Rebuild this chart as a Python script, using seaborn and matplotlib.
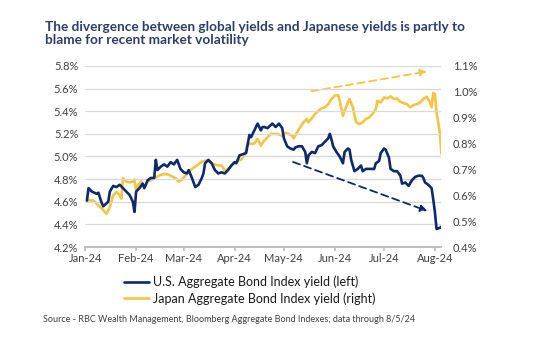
import pandas as pd
import numpy as np
import matplotlib.pyplot as plt
import matplotlib.dates as mdates
from matplotlib.ticker import FuncFormatter, MultipleLocator
import seaborn as sns

# U.S. Aggregate Bond Index yield (left axis, %)
us_dates = ["2024-01-02", "2024-01-03", "2024-01-05", "2024-01-08", "2024-01-09", "2024-01-11",
            "2024-01-12", "2024-01-15", "2024-01-16", "2024-01-18", "2024-01-20", "2024-01-22",
            "2024-01-24", "2024-01-26", "2024-01-28", "2024-01-30", "2024-01-31", "2024-02-01",
            "2024-02-03", "2024-02-05", "2024-02-06", "2024-02-08", "2024-02-10", "2024-02-12",
            "2024-02-13", "2024-02-14", "2024-02-16", "2024-02-18", "2024-02-20", "2024-02-22",
            "2024-02-24", "2024-02-26", "2024-02-28", "2024-03-01", "2024-03-03", "2024-03-04",
            "2024-03-06", "2024-03-08", "2024-03-10", "2024-03-12", "2024-03-13", "2024-03-14",
            "2024-03-16", "2024-03-18", "2024-03-20", "2024-03-22", "2024-03-24", "2024-03-26",
            "2024-03-28", "2024-03-30", "2024-04-01", "2024-04-02", "2024-04-04", "2024-04-06",
            "2024-04-08", "2024-04-10", "2024-04-11", "2024-04-13", "2024-04-15", "2024-04-17",
            "2024-04-18", "2024-04-19", "2024-04-21", "2024-04-24", "2024-04-26", "2024-04-28",
            "2024-04-30", "2024-05-01", "2024-05-03", "2024-05-05", "2024-05-07", "2024-05-08",
            "2024-05-10", "2024-05-12", "2024-05-14", "2024-05-15", "2024-05-16", "2024-05-18",
            "2024-05-20", "2024-05-22", "2024-05-24", "2024-05-26", "2024-05-28", "2024-05-29",
            "2024-05-30", "2024-05-31", "2024-06-02", "2024-06-04", "2024-06-06", "2024-06-07",
            "2024-06-09", "2024-06-10", "2024-06-11", "2024-06-13", "2024-06-15", "2024-06-17",
            "2024-06-18", "2024-06-20", "2024-06-23", "2024-06-25", "2024-06-26", "2024-06-28",
            "2024-06-29", "2024-07-01", "2024-07-02", "2024-07-04", "2024-07-05", "2024-07-07",
            "2024-07-09", "2024-07-11", "2024-07-12", "2024-07-14", "2024-07-16", "2024-07-18",
            "2024-07-20", "2024-07-22", "2024-07-24", "2024-07-25", "2024-07-26", "2024-07-28",
            "2024-07-30", "2024-07-31", "2024-08-01", "2024-08-02", "2024-08-04", "2024-08-05"]
us_yield = [4.61, 4.72, 4.69, 4.67, 4.68, 4.59, 4.56, 4.60, 4.69, 4.74, 4.73, 4.75,
            4.72, 4.69, 4.66, 4.60, 4.51, 4.69, 4.72, 4.76, 4.72, 4.79, 4.81, 4.81,
            4.97, 4.88, 4.91, 4.93, 4.91, 4.95, 4.93, 4.97, 4.89, 4.86, 4.85, 4.88,
            4.81, 4.73, 4.75, 4.81, 4.85, 4.94, 4.97, 4.94, 4.88, 4.85, 4.86, 4.85,
            4.88, 4.92, 4.95, 4.94, 5.01, 5.02, 5.03, 5.19, 5.17, 5.23, 5.29, 5.23,
            5.26, 5.26, 5.25, 5.29, 5.26, 5.29, 5.25, 5.16, 5.09, 5.07, 5.06, 5.08,
            5.09, 5.09, 5.04, 4.94, 5.01, 5.04, 5.03, 5.09, 5.10, 5.13, 5.16, 5.20,
            5.15, 5.09, 5.04, 5.00, 4.94, 5.04, 5.07, 5.06, 4.97, 4.87, 4.89, 4.92,
            4.87, 4.89, 4.89, 4.89, 4.94, 4.96, 5.03, 5.07, 5.06, 4.99, 4.89, 4.87,
            4.87, 4.83, 4.76, 4.77, 4.74, 4.79, 4.82, 4.83, 4.83, 4.81, 4.77, 4.75,
            4.72, 4.62, 4.51, 4.36, 4.37, 4.38]

# Japan Aggregate Bond Index yield (right axis, %)
jp_dates = ["2024-01-02", "2024-01-03", "2024-01-06", "2024-01-08", "2024-01-11", "2024-01-13",
            "2024-01-14", "2024-01-16", "2024-01-18", "2024-01-20", "2024-01-22", "2024-01-23",
            "2024-01-24", "2024-01-26", "2024-01-28", "2024-01-30", "2024-01-31", "2024-02-01",
            "2024-02-02", "2024-02-04", "2024-02-06", "2024-02-08", "2024-02-11", "2024-02-13",
            "2024-02-16", "2024-02-19", "2024-02-22", "2024-02-25", "2024-02-27", "2024-02-29",
            "2024-03-03", "2024-03-06", "2024-03-09", "2024-03-12", "2024-03-15", "2024-03-17",
            "2024-03-19", "2024-03-22", "2024-03-24", "2024-03-26", "2024-03-28", "2024-03-31",
            "2024-04-02", "2024-04-05", "2024-04-07", "2024-04-09", "2024-04-11", "2024-04-13",
            "2024-04-15", "2024-04-17", "2024-04-19", "2024-04-21", "2024-04-23", "2024-04-27",
            "2024-04-30", "2024-05-02", "2024-05-04", "2024-05-06", "2024-05-07", "2024-05-09",
            "2024-05-11", "2024-05-13", "2024-05-15", "2024-05-16", "2024-05-18", "2024-05-20",
            "2024-05-22", "2024-05-24", "2024-05-26", "2024-05-28", "2024-05-30", "2024-06-01",
            "2024-06-03", "2024-06-04", "2024-06-06", "2024-06-07", "2024-06-09", "2024-06-10",
            "2024-06-12", "2024-06-14", "2024-06-16", "2024-06-18", "2024-06-20", "2024-06-22",
            "2024-06-24", "2024-06-26", "2024-06-27", "2024-06-29", "2024-07-01", "2024-07-03",
            "2024-07-05", "2024-07-07", "2024-07-09", "2024-07-11", "2024-07-13", "2024-07-15",
            "2024-07-17", "2024-07-19", "2024-07-21", "2024-07-23", "2024-07-25", "2024-07-27",
            "2024-07-29", "2024-07-30", "2024-07-31", "2024-08-01", "2024-08-02", "2024-08-04",
            "2024-08-05"]
jp_yield = [0.590, 0.580, 0.580, 0.567, 0.550, 0.535, 0.529, 0.555, 0.600, 0.612, 0.600, 0.587,
            0.666, 0.653, 0.650, 0.653, 0.661, 0.619, 0.638, 0.653, 0.631, 0.653, 0.661, 0.670,
            0.679, 0.683, 0.676, 0.666, 0.653, 0.661, 0.683, 0.702, 0.715, 0.730, 0.734, 0.728,
            0.721, 0.715, 0.715, 0.696, 0.702, 0.721, 0.728, 0.738, 0.753, 0.800, 0.798, 0.800,
            0.818, 0.792, 0.811, 0.824, 0.837, 0.837, 0.830, 0.841, 0.837, 0.830, 0.820, 0.843,
            0.863, 0.882, 0.895, 0.882, 0.898, 0.914, 0.927, 0.936, 0.940, 0.952, 0.972, 0.985,
            0.987, 0.965, 0.907, 0.927, 0.959, 0.972, 0.940, 0.882, 0.875, 0.882, 0.895, 0.901,
            0.914, 0.933, 0.965, 0.959, 0.978, 0.974, 0.982, 0.972, 0.974, 0.961, 0.956, 0.952,
            0.940, 0.949, 0.952, 0.959, 0.972, 0.981, 0.959, 0.940, 0.995, 0.991, 0.920, 0.843,
            0.760]

# trend arrows: (start date, start value, end date, end value)
jp_arrow = ["2024-05-16", 1.00, "2024-07-29", 1.08]
us_arrow = ["2024-05-05", 4.96, "2024-07-29", 4.51]

title = ("The divergence between global yields and Japanese yields is partly to\n"
         "blame for recent market volatility")
source = "Source - RBC Wealth Management, Bloomberg Aggregate Bond Indexes; data through 8/5/24"
us_label = "U.S. Aggregate Bond Index yield (left)"
jp_label = "Japan Aggregate Bond Index yield (right)"

navy = "#0c2a6c"
gold = "#f4c443"
txt = "#404040"

sns.set_theme(style="white")
plt.rcParams["font.family"] = ["Lato", "DejaVu Sans"]

us = pd.DataFrame({"date": pd.to_datetime(us_dates), "yield": us_yield})
jp = pd.DataFrame({"date": pd.to_datetime(jp_dates), "yield": jp_yield})

fig = plt.figure(figsize=(5.43, 3.56), dpi=100)
ax = fig.add_axes([0.157, 0.306, 0.656, 0.509])
ax2 = ax.twinx()

sns.lineplot(data=us, x="date", y="yield", ax=ax, color=navy, lw=1.9, label=us_label, legend=False, zorder=3)
sns.lineplot(data=jp, x="date", y="yield", ax=ax2, color=gold, lw=1.9, label=jp_label, legend=False)
ax.set_zorder(ax2.get_zorder() + 1)
ax.patch.set_visible(False)

ax.set_ylim(4.2, 5.8)
ax2.set_ylim(0.4, 1.1)
ax.yaxis.set_major_locator(MultipleLocator(0.2))
ax2.yaxis.set_major_locator(MultipleLocator(0.1))
ax.yaxis.set_major_formatter(FuncFormatter(lambda v, p: f"{v:.1f}%"))
ax2.yaxis.set_major_formatter(FuncFormatter(lambda v, p: f"{v:.1f}%"))
ax.set_xlim(pd.Timestamp("2024-01-01"), pd.Timestamp("2024-08-05"))
ax.xaxis.set_major_locator(mdates.MonthLocator())
ax.xaxis.set_major_formatter(mdates.DateFormatter("%b-%y"))

ax.grid(axis="y", color="#d9d9d9", lw=0.9)
ax.set_axisbelow(True)
for a in (ax, ax2):
    a.set_xlabel("")
    a.set_ylabel("")
    for s in ("top", "left", "right"):
        a.spines[s].set_visible(False)
    a.spines["bottom"].set_color("#bfbfbf")
    a.tick_params(labelsize=8, colors=txt, length=0, pad=5)
ax.tick_params(axis="x", length=3, color="#bfbfbf", pad=1, bottom=True)
ax2.tick_params(axis="y", pad=8)

# dashed trend arrows
ax2.annotate("", xy=(pd.Timestamp(jp_arrow[2]), jp_arrow[3]), xytext=(pd.Timestamp(jp_arrow[0]), jp_arrow[1]),
             arrowprops=dict(arrowstyle="-|>", color=gold, lw=1.3, ls=(0, (4, 2.5)), mutation_scale=10))
ax.annotate("", xy=(pd.Timestamp(us_arrow[2]), us_arrow[3]), xytext=(pd.Timestamp(us_arrow[0]), us_arrow[1]),
            arrowprops=dict(arrowstyle="-|>", color=navy, lw=1.3, ls=(0, (4, 2.5)), mutation_scale=10))

h1, l1 = ax.get_legend_handles_labels()
h2, l2 = ax2.get_legend_handles_labels()
fig.legend(h1 + h2, l1 + l2, loc="center", bbox_to_anchor=(0.46, 0.185), frameon=False,
           fontsize=9, handlelength=2.0, handletextpad=0.3, labelspacing=0.35, labelcolor="#1a1a1a")

fig.text(0.083, 0.905, title, fontsize=9.8, fontweight="bold", color="#2b3f6c", va="center", linespacing=1.1)
fig.text(0.08, 0.102, source, fontsize=6.5, color=txt, va="center")

fig.savefig("out.png", dpi=100, facecolor="white")
